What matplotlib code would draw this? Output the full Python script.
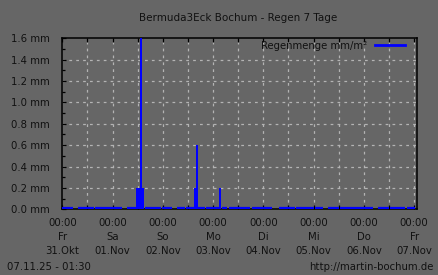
import numpy as np
import matplotlib
matplotlib.use("Agg")
import matplotlib.pyplot as plt
from matplotlib.ticker import MultipleLocator, FixedLocator

# ---- data (hours since Fr 31.Okt 00:00) ----
rain_hours = [35, 36, 37, 38, 63, 64, 75]
rain_values = [0.2, 0.2, 1.6, 0.2, 0.2, 0.6, 0.2]

# stretches with recorded 0.0 mm (hours)
zero_start = [0, 7.4, 15.5, 26, 31, 39.5, 47.5, 55, 59, 65, 68.5, 76.3, 79.5,
              90.5, 103.3, 111.5, 120.5, 127, 132.5, 150.6, 156.3, 164.4]
zero_end = [5, 15, 26, 28.5, 35, 47, 52.5, 58.5, 63, 68, 75, 78.5, 89.5,
            100, 111, 120, 124.3, 132, 148.2, 156, 163.5, 168.3]

day_names = ["Fr", "Sa", "So", "Mo", "Di", "Mi", "Do", "Fr"]
day_dates = ["31.Okt", "01.Nov", "02.Nov", "03.Nov", "04.Nov", "05.Nov", "06.Nov", "07.Nov"]
y_ticks = [0.0, 0.2, 0.4, 0.6, 0.8, 1.0, 1.2, 1.4, 1.6]

title = "Bermuda3Eck Bochum - Regen 7 Tage"
legend_label = "Regenmenge mm/m²"
stamp = "07.11.25 - 01:30"
url = "http://martin-bochum.de"

# ---- style ----
bg = "#666666"
txt = "#111111"
blue = "#0000ff"
W, H = 438, 275
fig = plt.figure(figsize=(W / 100, H / 100), dpi=100, facecolor=bg)
L, R, T, B = 62.3, 417.3, 38.3, 209.3
ax = fig.add_axes([L / W, 1 - B / H, (R - L) / W, (B - T) / H], facecolor=bg)

x0 = 0.0
x1 = 7 + 1.5 / 24
ax.set_xlim(x0, x1)
ax.set_ylim(0, 1.6)

# grid
for xv in np.arange(0.5, 7.01, 0.5):
    ax.axvline(xv, color="#b4b4b4", lw=0.9, ls=(0, (2.2, 3.3)), zorder=1)
for yv in y_ticks[1:-1]:
    ax.axhline(yv, color="#b4b4b4", lw=0.9, ls=(0, (2.2, 3.3)), zorder=1)

# zero segments
for s, e in zip(zero_start, zero_end):
    ax.plot([s / 24, e / 24], [0.014, 0.014], color=blue, lw=1.6,
            solid_capstyle="butt", zorder=3)

# bars
ax.bar([h / 24 for h in rain_hours], rain_values, width=1 / 24, align="edge",
       color=blue, linewidth=0, zorder=3)

# legend line
ax.plot([], [], color=blue, lw=2, label=legend_label)
leg = ax.legend(loc="upper right", frameon=False, fontsize=7.3, handlelength=3.0,
                handletextpad=0.8, borderaxespad=0.0, markerfirst=False,
                labelcolor=txt, bbox_to_anchor=(1 - 8 / 355, 1 + 1.5 / 171))

# spines
for sp in ["left", "bottom", "top", "right"]:
    ax.spines[sp].set_color("black")
    ax.spines[sp].set_linewidth(1.1)
    ax.spines[sp].set_zorder(2)

# ticks
ax.xaxis.set_major_locator(FixedLocator(list(range(8))))
ax.xaxis.set_minor_locator(FixedLocator([d + 0.5 for d in range(7)]))
ax.set_xticklabels([f"00:00\n{n}\n{d}" for n, d in zip(day_names, day_dates)],
                   fontsize=7.3, color=txt, linespacing=1.5)
ax.yaxis.set_major_locator(FixedLocator(y_ticks))
ax.yaxis.set_minor_locator(MultipleLocator(0.1))
ax.set_yticklabels([f"{v:.1f} mm" for v in y_ticks], fontsize=7.3, color=txt)
ax.tick_params(axis="x", which="both", direction="in", top=True, bottom=True,
               length=3, width=0.9, color="black", pad=6.5)
ax.tick_params(axis="y", which="major", direction="in", left=True, right=False,
               length=3, width=0.9, color="black", pad=9)
ax.tick_params(axis="y", which="minor", direction="in", left=True, right=False,
               length=2, width=0.9, color="black")

fig.text(238 / W, 1 - 18 / H, title, ha="center", va="center", fontsize=7.5, color=txt)
fig.text(7 / W, 1 - 267 / H, stamp, ha="left", va="center", fontsize=7.3, color=txt)
fig.text(433 / W, 1 - 267 / H, url, ha="right", va="center", fontsize=7.3, color=txt)

fig.savefig("out.png", dpi=100, facecolor=bg)
